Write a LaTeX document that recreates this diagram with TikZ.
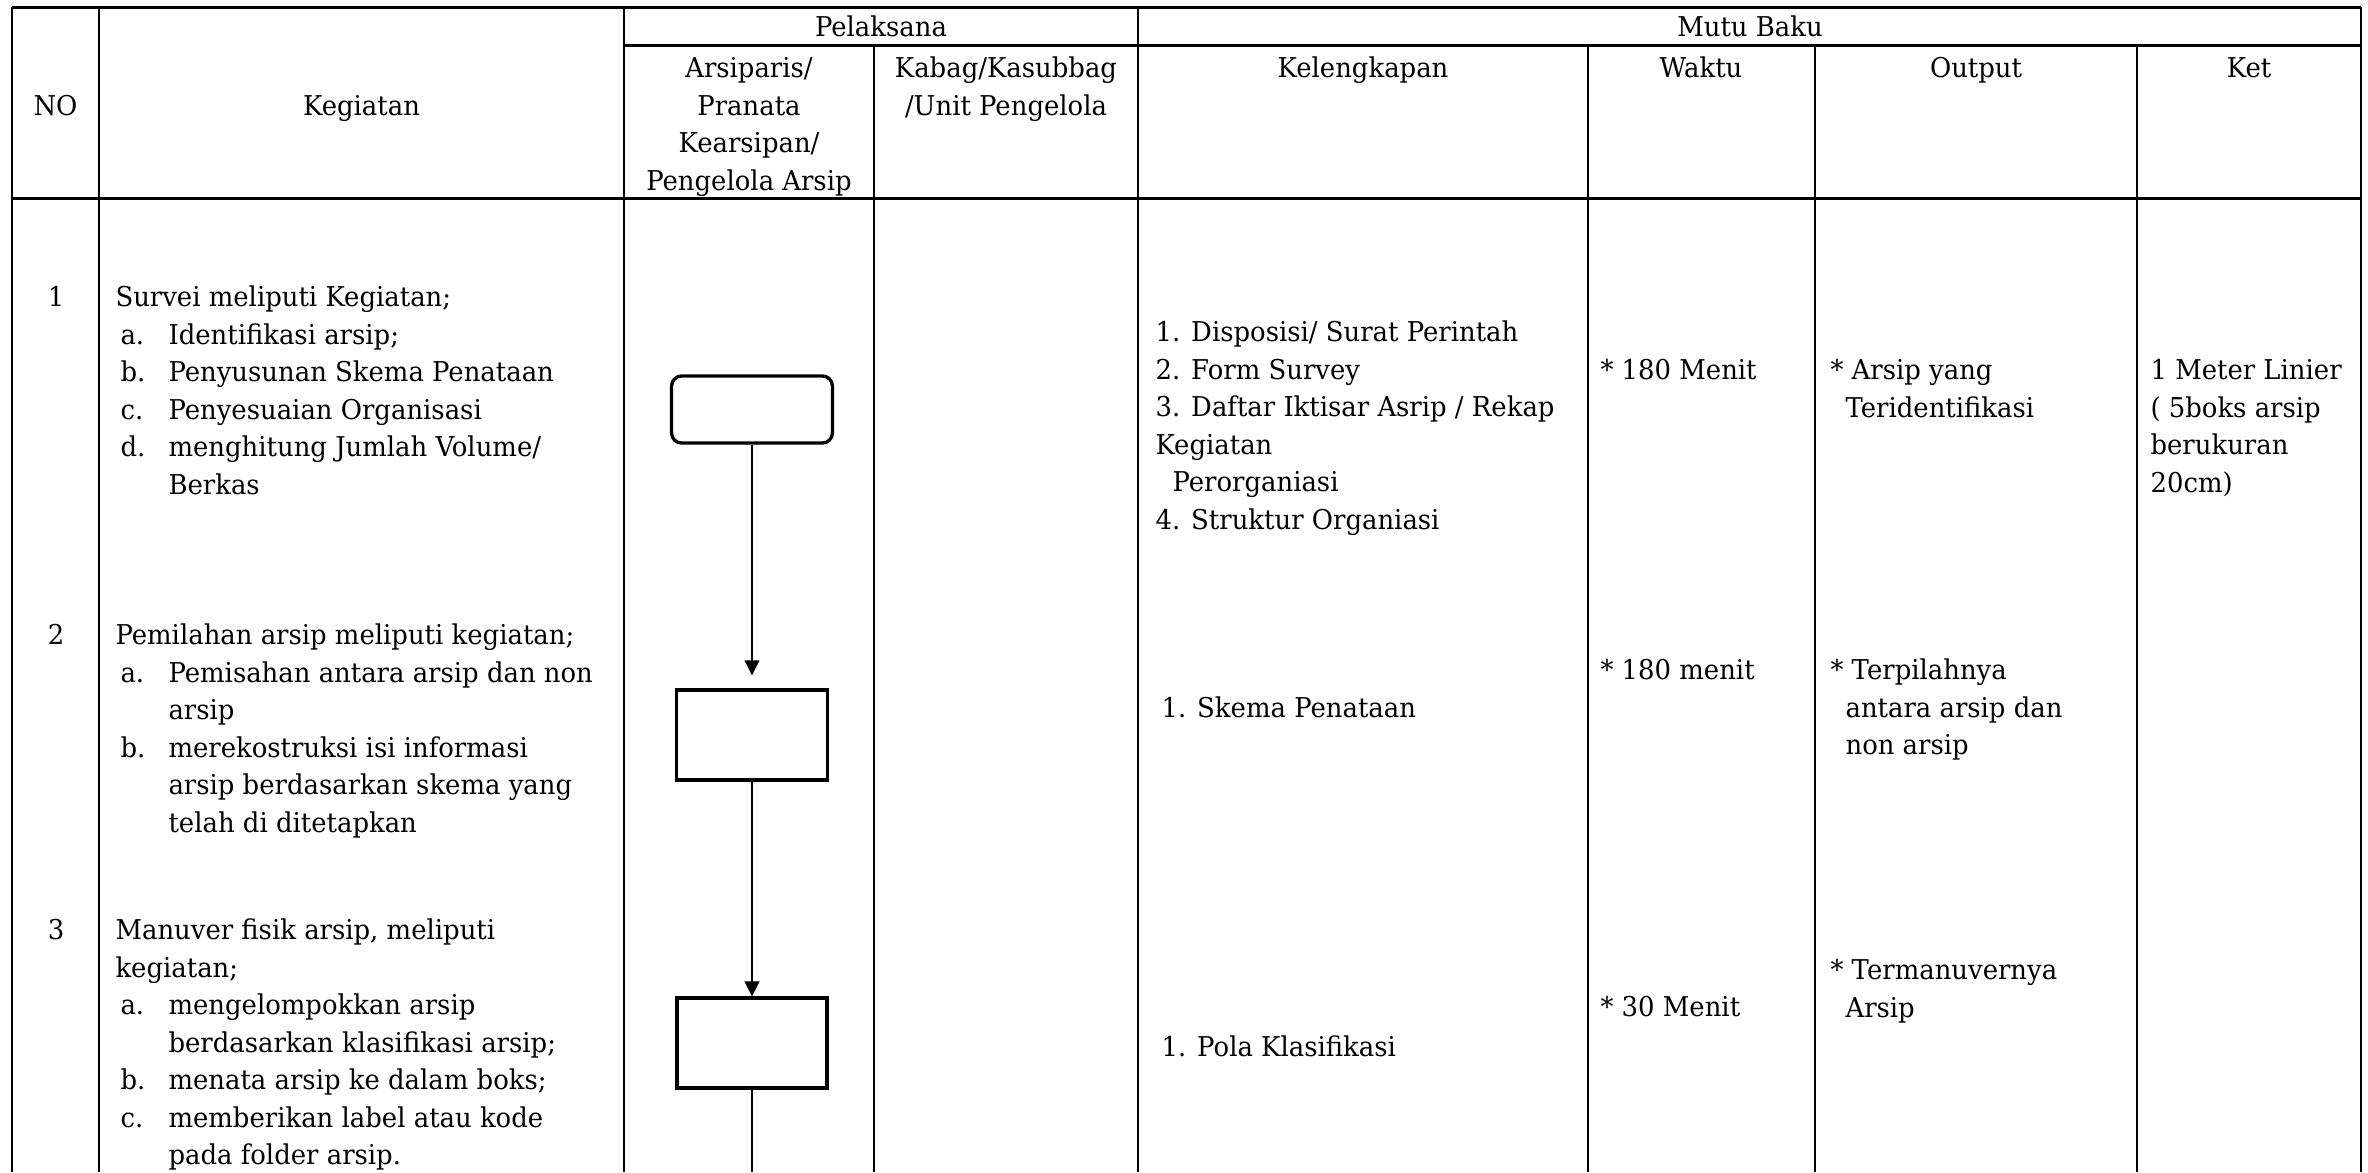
\documentclass[tikz,border=0pt]{standalone}
\usepackage{fontspec}
\setmainfont{DejaVu Serif}[FakeStretch=0.95]
\usepackage{tikz}
\usetikzlibrary{arrows.meta}
\usetikzlibrary{positioning}
\newlength{\px}
\setlength{\px}{0.3667pt}
\newcommand{\fs}{\fontsize{10pt}{13.75pt}\selectfont}
\newcommand{\itm}[1]{\hspace*{5\px}\makebox[48\px][l]{#1}}
\newcommand{\ind}{\hspace*{53\px}}
\tikzset{>=Latex}
\tikzset{
  grid/.style = {line width=0.6pt},
  rule/.style = {line width=1.1pt},
  txt/.style = {anchor=north west, inner sep=0pt, align=left, font=\fs},
  head/.style = {anchor=north, inner sep=0pt, align=center, font=\fs},
  act/.style = {draw, line width=1.2pt, minimum width=55.4pt, minimum height=33pt, inner sep=0pt},
  flow/.style = {-{Triangle[width=5.5pt,length=5.5pt]}, line width=0.4pt},
}

\begin{document}
\begin{tikzpicture}[x=0.3667pt, y=-0.3667pt]
\useasboundingbox (0,0) rectangle (2368,1172);
% table
\draw[rule] (12,7) -- (2361,7);
\draw[rule] (624,45) -- (2361,45);
\draw[rule] (12,198) -- (2361,198);
\foreach \x in {12,99,624,1138,2361} \draw[grid] (\x,7) -- (\x,1172);
\foreach \x in {874,1588,1815,2137} \draw[grid] (\x,45) -- (\x,1172);
% header
\node[head] (no) at (55.5,89) {\strut NO};
\node[head] (keg) at (361.5,89) {\strut Kegiatan};
\node[head] (pel) at (881,10) {\strut Pelaksana};
\node[head] (mutu) at (1750,10) {\strut Mutu Baku};
\node[head] (arsiparis) at (749,51) {\strut Arsiparis/\\Pranata\\Kearsipan/\\Pengelola Arsip};
\node[head] (kabag) at (1006,51) {\strut Kabag/Kasubbag\\/Unit Pengelola};
\node[head] (lengkap) at (1363,51) {\strut Kelengkapan};
\node[head] (waktu) at (1701,51) {\strut Waktu};
\node[head] (output) at (1976,51) {\strut Output};
\node[head] (ket) at (2249,51) {\strut Ket};
% rows
\node[head] (n1) at (56,280) {\strut 1};
\node[head] (n2) at (56,618) {\strut 2};
\node[head] (n3) at (56,913) {\strut 3};
\node[txt] (k1) at (115,280) {\strut Survei meliputi Kegiatan;\\
  \itm{a.}Identifikasi arsip;\\
  \itm{b.}Penyusunan Skema Penataan\\
  \itm{c.}Penyesuaian Organisasi\\
  \itm{d.}menghitung Jumlah Volume/\\
  \ind Berkas};
\node[txt] (k2) at (115,618) {\strut Pemilahan arsip meliputi kegiatan;\\
  \itm{a.}Pemisahan antara arsip dan non\\
  \ind arsip\\
  \itm{b.}merekostruksi isi informasi\\
  \ind arsip berdasarkan skema yang\\
  \ind telah di ditetapkan};
\node[txt] (k3) at (115,913) {\strut Manuver fisik arsip, meliputi\\
  kegiatan;\\
  \itm{a.}mengelompokkan arsip\\
  \ind berdasarkan klasifikasi arsip;\\
  \itm{b.}menata arsip ke dalam boks;\\
  \itm{c.}memberikan label atau kode\\
  \ind pada folder arsip.};
% flow
\node[act, rounded corners=3.7pt, minimum width=59pt, minimum height=24.6pt] (survei) at (752,409.5) {};
\node[act] (pilah) at (752,735) {};
\node[act, minimum width=55pt] (manuver) at (752,1043) {};
\coordinate (akhir) at (752,1172);
\draw[flow, shorten >=4.8pt] (survei) -- (pilah);
\draw[flow] (pilah) -- (manuver);
\draw[line width=0.4pt] (manuver) -- (akhir);
% mutu baku
\node[txt] (l1) at (1155,315) {\strut 1. Disposisi/ Surat Perintah\\
  2. Form Survey\\
  3. Daftar Iktisar Asrip / Rekap\\
  Kegiatan\\
  \hspace*{17\px}Perorganiasi\\
  4. Struktur Organiasi};
\node[txt] (l2) at (1161,691) {\strut 1. Skema Penataan};
\node[txt] (l3) at (1161,1030) {\strut 1. Pola Klasifikasi};
\node[txt] (w1) at (1600,353) {\strut * 180 Menit};
\node[txt] (w2) at (1600,653) {\strut * 180 menit};
\node[txt] (w3) at (1600,990) {\strut * 30 Menit};
\node[txt] (o1) at (1830,353) {\strut * Arsip yang\\ \hspace*{15\px}Teridentifikasi};
\node[txt] (o2) at (1830,653) {\strut * Terpilahnya\\ \hspace*{15\px}antara arsip dan\\ \hspace*{15\px}non arsip};
\node[txt] (o3) at (1830,953) {\strut * Termanuvernya\\ \hspace*{15\px}Arsip};
\node[txt] (t1) at (2150,353) {\strut 1 Meter Linier\\ ( 5boks arsip\\ berukuran\\ 20cm)};
\end{tikzpicture}
\end{document}
